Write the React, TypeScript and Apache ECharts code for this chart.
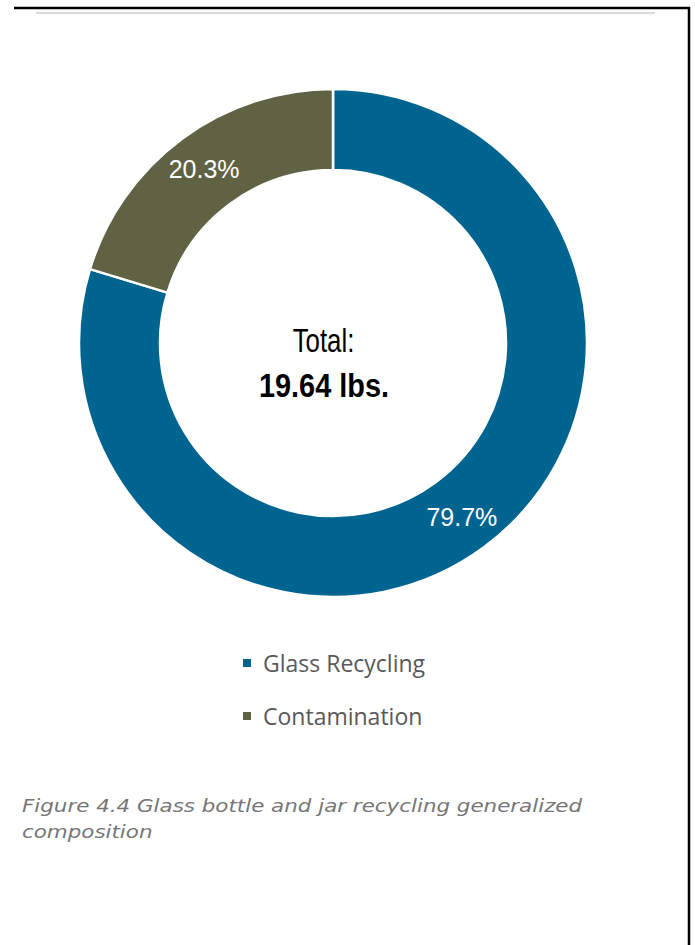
import React, { useEffect, useRef } from "react";
import * as echarts from "echarts";

const categories = ["Glass Recycling", "Contamination"];
const shares = [79.7, 20.3];
const colors = ["#006491", "#5f6343"];
const centerTitle = "Total:";
const centerValue = "19.64 lbs.";
const captionLines = ["Figure 4.4 Glass bottle and jar recycling generalized", "composition"];

const narrow = "'Liberation Sans', Arial, sans-serif";

export default function App() {
  const ref = useRef<HTMLDivElement>(null);
  useEffect(() => {
    document.body.style.margin = "0";
    const chart = echarts.init(ref.current!, null, { renderer: "svg" });
    chart.setOption({
      animation: false,
      backgroundColor: "#ffffff",
      color: colors,
      legend: {
        orient: "vertical",
        left: 236,
        top: 645,
        itemWidth: 10,
        itemHeight: 10,
        itemGap: 27,
        icon: "rect",
        data: categories,
        textStyle: { fontFamily: "'Open Sans', sans-serif", fontSize: 23, color: "#595959", lineHeight: 26, padding: [0, 0, 0, 6] },
      },
      graphic: [
        { type: "line", shape: { x1: 14, y1: 8, x2: 690, y2: 8 }, style: { stroke: "#000", lineWidth: 2.5 } },
        { type: "line", shape: { x1: 689, y1: 7, x2: 689, y2: 945 }, style: { stroke: "#000", lineWidth: 2.5 } },
        { type: "line", shape: { x1: 36, y1: 13, x2: 655, y2: 13 }, style: { stroke: "#d9d9d9", lineWidth: 2 } },
        {
          type: "text", x: 323.5, y: 340, scaleX: 0.76,
          style: { text: centerTitle, fontFamily: narrow, fontSize: 34, fill: "#000", align: "center", verticalAlign: "middle" },
        },
        {
          type: "text", x: 324, y: 385, scaleX: 0.85,
          style: { text: centerValue, fontFamily: narrow, fontWeight: "bold", fontSize: 34, fill: "#000", align: "center", verticalAlign: "middle" },
        },
        {
          type: "text", x: 22, y: 806, scaleX: 1.19,
          style: { text: captionLines[0], fontFamily: "DejaVu Sans", fontStyle: "italic", fontSize: 18, fill: "#767676", verticalAlign: "middle" },
        },
        {
          type: "text", x: 22, y: 832, scaleX: 1.19,
          style: { text: captionLines[1], fontFamily: "DejaVu Sans", fontStyle: "italic", fontSize: 18, fill: "#767676", verticalAlign: "middle" },
        },
      ],
      series: [
        {
          type: "pie",
          center: [333, 343],
          radius: [173, 254],
          startAngle: 90,
          clockwise: true,
          avoidLabelOverlap: false,
          itemStyle: { borderColor: "#ffffff", borderWidth: 2.5 },
          label: {
            show: true,
            position: "inside",
            color: "#ffffff",
            fontFamily: narrow,
            fontSize: 25,
            formatter: (p: any) => p.value.toFixed(1) + "%",
          },
          labelLine: { show: false },
          emphasis: { disabled: true },
          data: categories.map((name, i) => ({ name, value: shares[i] })),
        },
      ],
    });
    return () => chart.dispose();
  }, []);
  return <div ref={ref} style={{ width: 695, height: 945 }} />;
}
